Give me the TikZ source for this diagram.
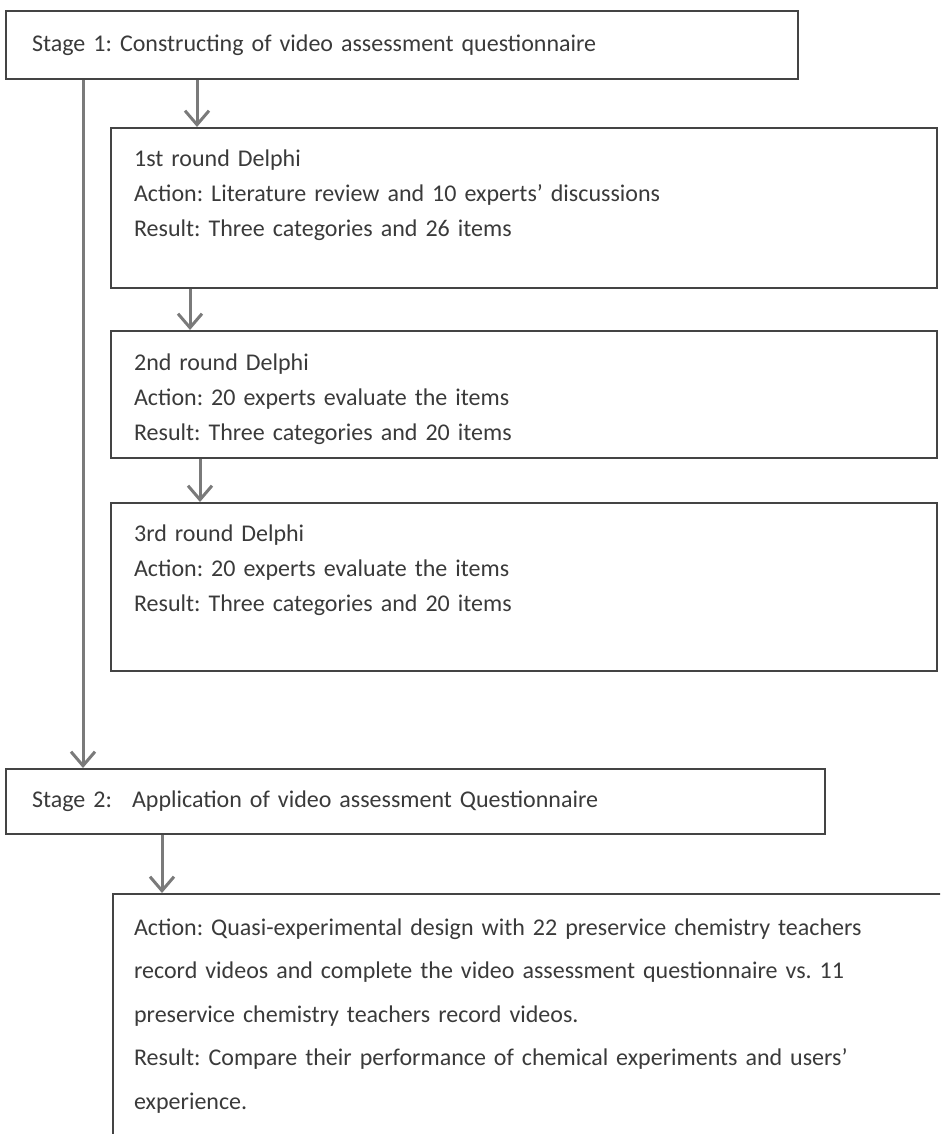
\documentclass[tikz,border=0pt]{standalone}
\usepackage{fontspec}
\setmainfont{Carlito}
\usetikzlibrary{arrows.meta}

\definecolor{linegray}{HTML}{444444}
\definecolor{arrowgray}{HTML}{7A7A7A}
\definecolor{textgray}{HTML}{3A3A3A}

\tikzset{
    stagebox/.style={draw=linegray, line width=2.2pt, anchor=north west, align=left,
        inner ysep=0pt, text=textgray, font=\fontsize{24}{35}\selectfont},
    flow/.style={draw=arrowgray, line width=3pt, -{Straight Barb[length=14pt,width=24pt]}},
}

\begin{document}
\frenchspacing
\begin{tikzpicture}[x=1pt, y=-1pt]
        \clip (0,0) rectangle (940,1134);

        % stage 1 and the three Delphi rounds
        \node[stagebox, minimum width=792pt, minimum height=68pt, inner xsep=26pt, text width=740pt]
            (s1) at (5,10) {Stage 1: Constructing of video assessment questionnaire};
        \node[stagebox, minimum width=826pt, inner xsep=23pt, text width=780pt, text height=38pt, text depth=122pt]
            (r1) at (110,127) {1st round Delphi\\Action: Literature review and 10 experts’ discussions\\Result: Three categories and 26 items};
        \node[stagebox, minimum width=826pt, inner xsep=23pt, text width=780pt, text height=39pt, text depth=88pt]
            (r2) at (110,330) {2nd round Delphi\\Action: 20 experts evaluate the items\\Result: Three categories and 20 items};
        \node[stagebox, minimum width=826pt, inner xsep=23pt, text width=780pt, text height=38pt, text depth=130pt]
            (r3) at (110,502) {3rd round Delphi\\Action: 20 experts evaluate the items\\Result: Three categories and 20 items};

        % stage 2
        \node[stagebox, minimum width=819pt, minimum height=65pt, inner xsep=26pt, text width=767pt]
            (s2) at (5,768) {Stage 2:\hspace{20pt}Application of video assessment Questionnaire};
        \node[stagebox, font=\fontsize{24}{43.5}\selectfont, minimum width=860pt, inner xsep=21pt, text width=818pt,
            text height=41pt, text depth=230pt]
            (res) at (112,893) {Action: Quasi-experimental design with 22 preservice chemistry teachers\\
                record videos and complete the video assessment questionnaire vs. 11\\
                preservice chemistry teachers record videos.\\
                Result: Compare their performance of chemical experiments and users’\\
                experience.};

        % arrows
        \coordinate (a0) at (83,0);
        \coordinate (a1) at (197,0);
        \coordinate (a2) at (190,0);
        \coordinate (a3) at (200,0);
        \coordinate (a4) at (162,0);
        \draw[flow] (a0 |- s1.south) -- (a0 |- s2.north);
        \draw[flow] (a1 |- s1.south) -- (a1 |- r1.north);
        \draw[flow] (a2 |- r1.south) -- (a2 |- r2.north);
        \draw[flow] (a3 |- r2.south) -- (a3 |- r3.north);
        \draw[flow] (a4 |- s2.south) -- (a4 |- res.north);

\end{tikzpicture}
\end{document}
